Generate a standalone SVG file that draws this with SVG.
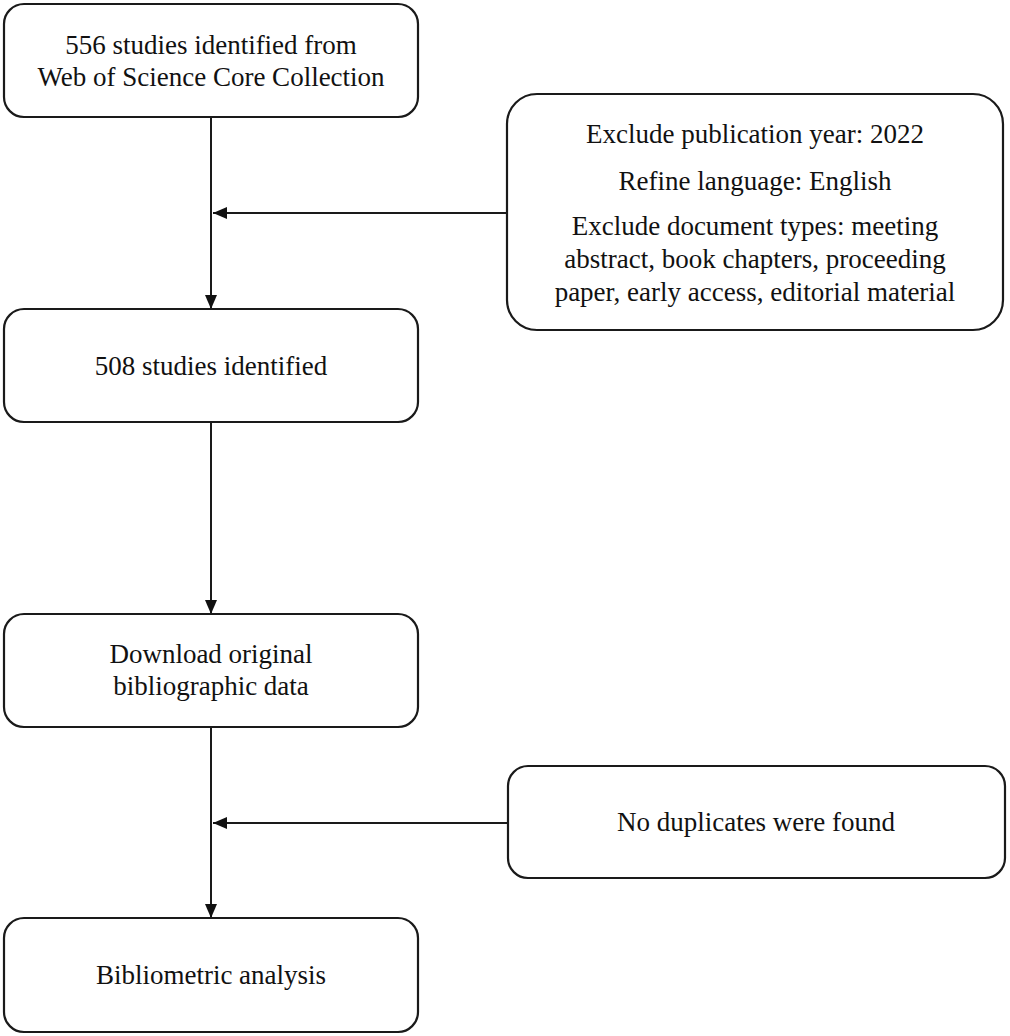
<svg xmlns="http://www.w3.org/2000/svg" width="1010" height="1036" viewBox="0 0 1010 1036">
<style>
.box{fill:#fff;stroke:#1a1a1a;stroke-width:2.2}
.t{font-family:"Liberation Serif","Times New Roman",serif;font-size:27px;fill:#111;text-anchor:middle}
.ln{stroke:#1a1a1a;stroke-width:2;fill:none}
</style>
<defs>
<marker id="ah" markerUnits="userSpaceOnUse" markerWidth="14" markerHeight="14" viewBox="0 0 14 14" refX="14" refY="7" orient="auto">
<path d="M0,1 L14,7 L0,13 Z" fill="#111"/>
</marker>
</defs>
<rect width="1010" height="1036" fill="#fff"/>
<g id="connectors">
<line class="ln" x1="211" y1="117" x2="211" y2="309" marker-end="url(#ah)"/>
<line class="ln" x1="507" y1="213" x2="213" y2="213" marker-end="url(#ah)"/>
<line class="ln" x1="211" y1="422" x2="211" y2="614" marker-end="url(#ah)"/>
<line class="ln" x1="211" y1="727" x2="211" y2="918" marker-end="url(#ah)"/>
<line class="ln" x1="508" y1="823" x2="213" y2="823" marker-end="url(#ah)"/>
</g>
<g id="n1">
<rect class="box" x="4" y="4" width="414" height="113" rx="20"/>
<text class="t" x="211" y="54">556 studies identified from</text>
<text class="t" x="211" y="86">Web of Science Core Collection</text>
</g>
<g id="n2">
<rect class="box" x="507" y="94" width="496" height="236" rx="30"/>
<text class="t" x="755" y="143">Exclude publication year: 2022</text>
<text class="t" x="755" y="190">Refine language: English</text>
<text class="t" x="755" y="235">Exclude document types: meeting</text>
<text class="t" x="755" y="268">abstract, book chapters, proceeding</text>
<text class="t" x="755" y="301">paper, early access, editorial material</text>
</g>
<g id="n3">
<rect class="box" x="4" y="309" width="414" height="113" rx="20"/>
<text class="t" x="211" y="375">508 studies identified</text>
</g>
<g id="n4">
<rect class="box" x="4" y="614" width="414" height="113" rx="20"/>
<text class="t" x="211" y="663">Download original</text>
<text class="t" x="211" y="695">bibliographic data</text>
</g>
<g id="n5">
<rect class="box" x="508" y="766" width="497" height="112" rx="20"/>
<text class="t" x="756" y="831">No duplicates were found</text>
</g>
<g id="n6">
<rect class="box" x="4" y="918" width="414" height="114" rx="20"/>
<text class="t" x="211" y="984">Bibliometric analysis</text>
</g>
</svg>
